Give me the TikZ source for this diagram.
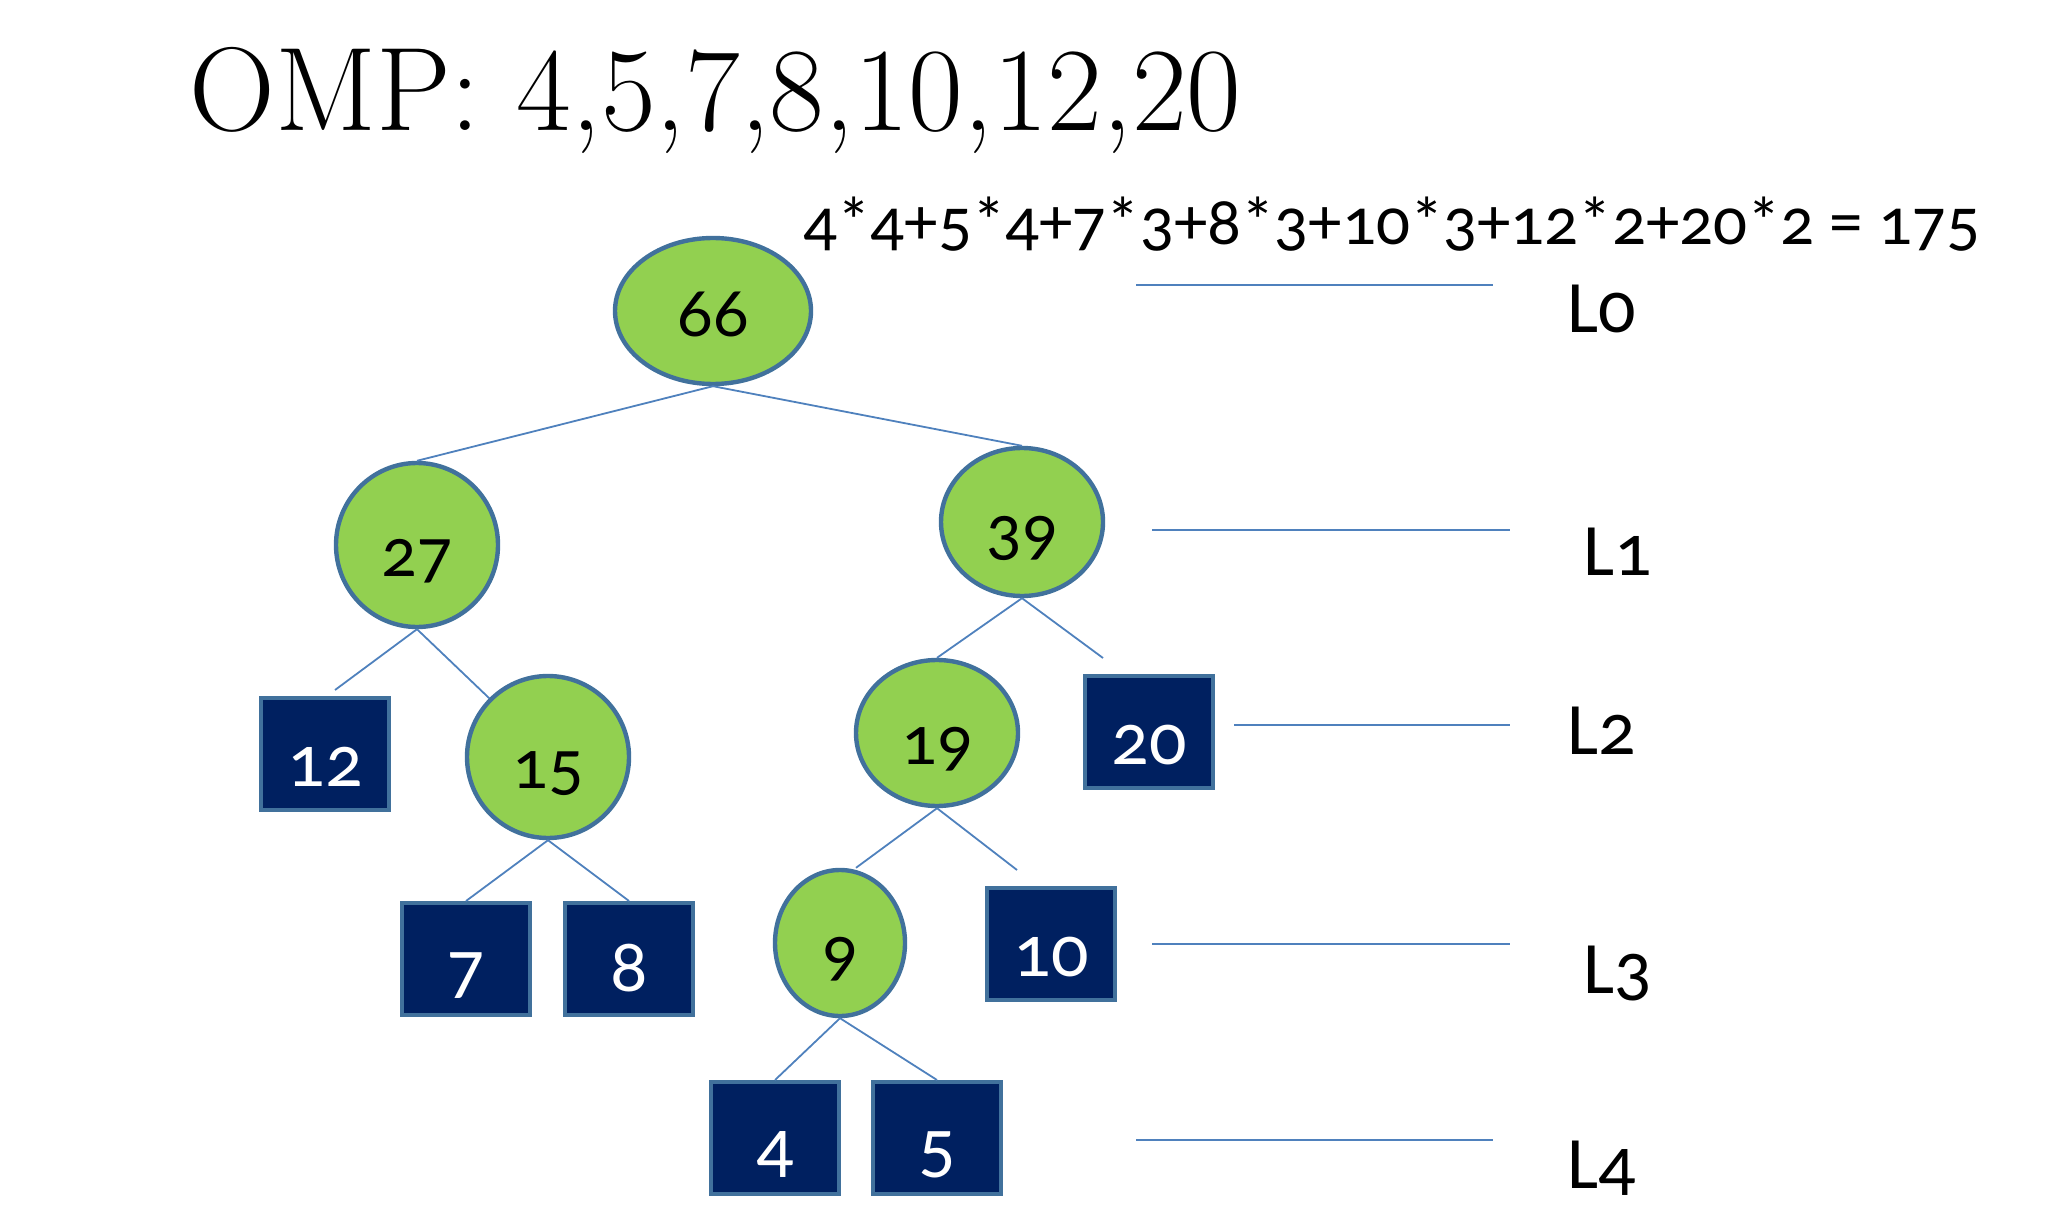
\documentclass[tikz,border=0pt]{standalone}
\usepackage{fontspec}
\newfontfamily\slidefont[Numbers=OldStyle]{Carlito}
\usetikzlibrary{shapes.geometric}
\definecolor{leafgreen}{HTML}{92D050}
\definecolor{outlineblue}{HTML}{41719C}
\definecolor{boxnavy}{HTML}{002060}
\definecolor{edgeblue}{HTML}{4F81BD}
\tikzset{
  inner/.style={ellipse, draw=outlineblue, line width=2.2pt, fill=leafgreen, inner sep=0pt,
    text height=31pt, text depth=0pt, font=\slidefont\fontsize{35}{35}\selectfont},
  leaf/.style={rectangle, draw=outlineblue, line width=2pt, fill=boxnavy, text=white,
    minimum width=64pt, minimum height=56pt, inner sep=0pt,
    text height=32pt, text depth=0pt, font=\slidefont\fontsize{37}{37}\selectfont},
  edge/.style={draw=edgeblue, line width=0.9pt},
  levlabel/.style={anchor=base west, inner sep=0pt, font=\slidefont\fontsize{37}{37}\selectfont},
}
\begin{document}
\begin{tikzpicture}[x=0.5pt, y=-0.5pt]
\useasboundingbox (0,0) rectangle (2048,1229);
% headings
\node[anchor=base west, inner sep=0pt, font=\fontsize{59.5}{59.5}\selectfont] (title) at (189,131) {OMP: 4,5,7,8,10,12,20};
\node[anchor=base west, inner sep=0pt, font=\slidefont\fontsize{33.5}{33.5}\selectfont] (cost) at (803,245) {4*4+5*4+7*3+8*3+10*3+12*2+20*2 = 175};
% inner nodes
\node[inner, minimum width=98pt, minimum height=73pt, text height=26pt] (n66) at (713,311) {66};
\node[inner, minimum width=81pt, minimum height=82pt] (n27) at (417,545) {27};
\node[inner, minimum width=81pt, minimum height=74pt] (n39) at (1022,522) {39};
\node[inner, minimum width=81pt, minimum height=81pt] (n15) at (548,757) {15};
\node[inner, minimum width=81pt, minimum height=73pt] (n19) at (937,733) {19};
\node[inner, minimum width=65pt, minimum height=73pt] (n9) at (840,943) {9};
% leaves
\node[leaf] (l12) at (325,754) {12};
\node[leaf] (l20) at (1149,732) {20};
\node[leaf] (l7) at (466,959) {7};
\node[leaf] (l8) at (629,959) {8};
\node[leaf] (l10) at (1051,944) {10};
\node[leaf] (l4) at (775,1138) {4};
\node[leaf] (l5) at (937,1138) {5};
% edges
\draw[edge] (n66.south) -- (n27.north);
\draw[edge] (n66.south) -- (n39.north);
\draw[edge] (n27.south) -- ([xshift=5pt,yshift=3pt]l12.north);
\draw[edge] (n27.south) -- (n15.north west);
\draw[edge] (n39.south) -- (n19.north);
\draw[edge] (n39.south) -- ([xshift=10pt,yshift=8pt]l20.north west);
\draw[edge] (n15.south) -- (l7.north);
\draw[edge] (n15.south) -- (l8.north);
\draw[edge] (n19.south) -- ([xshift=8pt]n9.north);
\draw[edge] (n19.south) -- ([xshift=16pt,yshift=8pt]l10.north west);
\draw[edge] (n9.south) -- (l4.north);
\draw[edge] (n9.south) -- (l5.north);
% levels
\foreach \lev/\xa/\xb/\ly/\lx/\lb in {0/1136/1493/285/1567/333, 1/1152/1510/530/1583/575,
    2/1234/1510/725/1567/754, 3/1152/1510/944/1583/993, 4/1136/1493/1140/1567/1188} {
  \draw[edge] (\xa,\ly) -- (\xb,\ly);
  \node[levlabel] (lev\lev) at (\lx,\lb) {L\lev};
}
\end{tikzpicture}
\end{document}
